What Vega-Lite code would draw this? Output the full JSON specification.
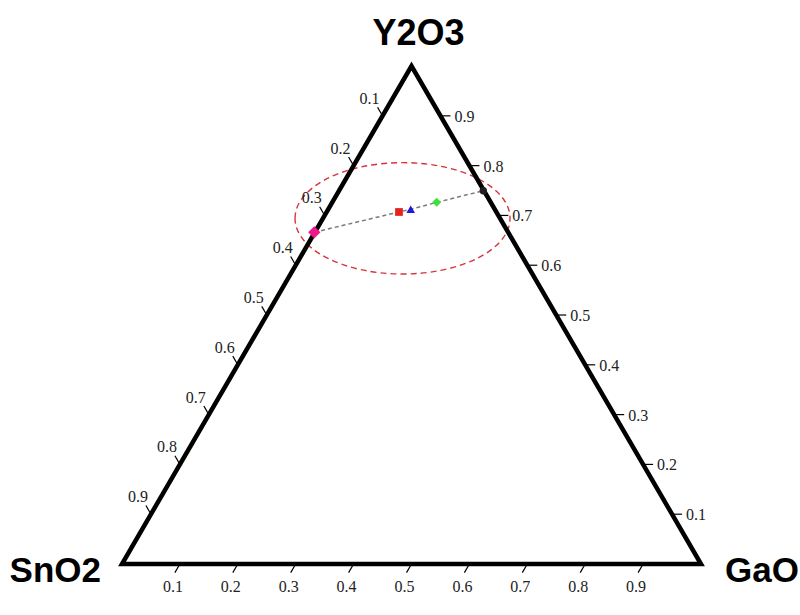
{
  "$schema": "https://vega.github.io/schema/vega-lite/v6.json",
  "width": 800,
  "height": 615,
  "autosize": "none",
  "padding": 0,
  "background": "white",
  "config": {"view": {"stroke": null}},
  "datasets": {
    "frame": [
      {"v": "SnO2", "order": 1, "x": 0, "y": 0},
      {"v": "GaO", "order": 2, "x": 1, "y": 0},
      {"v": "Y2O3", "order": 3, "x": 0.5, "y": 0.866},
      {"v": "SnO2", "order": 4, "x": 0, "y": 0},
      {"v": "GaO", "order": 5, "x": 1, "y": 0}
    ],
    "ticks": [
      {"axis": "GaO", "label": "0.1", "x": 0.1, "y": 0},
      {"axis": "GaO", "label": "0.2", "x": 0.2, "y": 0},
      {"axis": "GaO", "label": "0.3", "x": 0.3, "y": 0},
      {"axis": "GaO", "label": "0.4", "x": 0.4, "y": 0},
      {"axis": "GaO", "label": "0.5", "x": 0.5, "y": 0},
      {"axis": "GaO", "label": "0.6", "x": 0.6, "y": 0},
      {"axis": "GaO", "label": "0.7", "x": 0.7, "y": 0},
      {"axis": "GaO", "label": "0.8", "x": 0.8, "y": 0},
      {"axis": "GaO", "label": "0.9", "x": 0.9, "y": 0},
      {"axis": "Y2O3", "label": "0.1", "x": 0.95, "y": 0.0866},
      {"axis": "Y2O3", "label": "0.2", "x": 0.9, "y": 0.1732},
      {"axis": "Y2O3", "label": "0.3", "x": 0.85, "y": 0.2598},
      {"axis": "Y2O3", "label": "0.4", "x": 0.8, "y": 0.3464},
      {"axis": "Y2O3", "label": "0.5", "x": 0.75, "y": 0.433},
      {"axis": "Y2O3", "label": "0.6", "x": 0.7, "y": 0.5196},
      {"axis": "Y2O3", "label": "0.7", "x": 0.65, "y": 0.6062},
      {"axis": "Y2O3", "label": "0.8", "x": 0.6, "y": 0.6928},
      {"axis": "Y2O3", "label": "0.9", "x": 0.55, "y": 0.7794},
      {"axis": "SnO2", "label": "0.1", "x": 0.45, "y": 0.7794},
      {"axis": "SnO2", "label": "0.2", "x": 0.4, "y": 0.6928},
      {"axis": "SnO2", "label": "0.3", "x": 0.35, "y": 0.6062},
      {"axis": "SnO2", "label": "0.4", "x": 0.3, "y": 0.5196},
      {"axis": "SnO2", "label": "0.5", "x": 0.25, "y": 0.433},
      {"axis": "SnO2", "label": "0.6", "x": 0.2, "y": 0.3464},
      {"axis": "SnO2", "label": "0.7", "x": 0.15, "y": 0.2598},
      {"axis": "SnO2", "label": "0.8", "x": 0.1, "y": 0.1732},
      {"axis": "SnO2", "label": "0.9", "x": 0.05, "y": 0.0866}
    ],
    "samples": [
      {"sample": "A", "order": 1, "x": 0.3321, "y": 0.5769},
      {"sample": "B", "order": 2, "x": 0.4784, "y": 0.6122},
      {"sample": "C", "order": 3, "x": 0.4986, "y": 0.6169},
      {"sample": "D", "order": 4, "x": 0.5435, "y": 0.629},
      {"sample": "E", "order": 5, "x": 0.624, "y": 0.6492}
    ],
    "region": [
      {"name": "region", "x": 0.4845, "y": 0.6012}
    ]
  },
  "encoding": {
    "x": {"field": "x", "type": "quantitative", "scale": {"domain": [-0.21071, 1.17098], "nice": false, "zero": false}, "axis": null},
    "y": {"field": "y", "type": "quantitative", "scale": {"domain": [-0.0887, 0.98087], "nice": false, "zero": false}, "axis": null}
  },
  "layer": [
    {
      "data": {"name": "region"},
      "mark": {
        "type": "point",
        "shape": "M-1,0C-1,-0.286,-0.552,-0.518,0,-0.518C0.552,-0.518,1,-0.286,1,0C1,0.286,0.552,0.518,0,0.518C-0.552,0.518,-1,0.286,-1,0Z",
        "size": 46225,
        "filled": false,
        "stroke": "#d8343c",
        "strokeWidth": 1.4,
        "strokeDash": [6, 4],
        "opacity": 1
      }
    },
    {
      "data": {"name": "frame"},
      "mark": {"type": "line", "stroke": "black", "strokeWidth": 4.5, "strokeJoin": "miter", "strokeMiterLimit": 10},
      "encoding": {"order": {"field": "order"}}
    },
    {
      "data": {"name": "ticks"},
      "transform": [{"filter": "datum.axis === 'GaO'"}],
      "layer": [
        {"mark": {"type": "point", "shape": "M0,0L-0.5,0.866", "size": 400, "filled": false, "stroke": "black", "strokeWidth": 1.2, "opacity": 1}},
        {"mark": {"type": "text", "font": "Liberation Serif", "fontSize": 16, "color": "#222", "align": "center", "baseline": "middle", "dx": -7, "dy": 23}, "encoding": {"text": {"field": "label"}}}
      ]
    },
    {
      "data": {"name": "ticks"},
      "transform": [{"filter": "datum.axis === 'Y2O3'"}],
      "layer": [
        {"mark": {"type": "point", "shape": "M0,0L1,0", "size": 400, "filled": false, "stroke": "black", "strokeWidth": 1.2, "opacity": 1}},
        {"mark": {"type": "text", "font": "Liberation Serif", "fontSize": 16, "color": "#222", "align": "left", "baseline": "middle", "dx": 14, "dy": 1}, "encoding": {"text": {"field": "label"}}}
      ]
    },
    {
      "data": {"name": "ticks"},
      "transform": [{"filter": "datum.axis === 'SnO2'"}],
      "layer": [
        {"mark": {"type": "point", "shape": "M0,0L-0.5,-0.866", "size": 400, "filled": false, "stroke": "black", "strokeWidth": 1.2, "opacity": 1}},
        {"mark": {"type": "text", "font": "Liberation Serif", "fontSize": 16, "color": "#222", "align": "center", "baseline": "middle", "dx": -13, "dy": -17}, "encoding": {"text": {"field": "label"}}}
      ]
    },
    {
      "data": {"name": "samples"},
      "mark": {"type": "line", "stroke": "#7a7a7a", "strokeWidth": 1.5, "strokeDash": [4, 3]},
      "encoding": {"order": {"field": "order"}}
    },
    {
      "data": {"name": "samples"},
      "transform": [{"filter": "datum.sample === 'A'"}],
      "mark": {"type": "point", "shape": "diamond", "size": 150, "filled": true, "color": "#f0168c", "opacity": 1}
    },
    {
      "data": {"name": "samples"},
      "transform": [{"filter": "datum.sample === 'B'"}],
      "mark": {"type": "point", "shape": "square", "size": 60, "filled": true, "color": "#e3231e", "opacity": 1}
    },
    {
      "data": {"name": "samples"},
      "transform": [{"filter": "datum.sample === 'C'"}],
      "mark": {"type": "point", "shape": "triangle-up", "size": 75, "filled": true, "color": "#1c1cd8", "opacity": 1}
    },
    {
      "data": {"name": "samples"},
      "transform": [{"filter": "datum.sample === 'D'"}],
      "mark": {"type": "point", "shape": "diamond", "size": 80, "filled": true, "color": "#3ee03a", "opacity": 1}
    },
    {
      "data": {"name": "samples"},
      "transform": [{"filter": "datum.sample === 'E'"}],
      "mark": {"type": "point", "shape": "circle", "size": 55, "filled": true, "color": "#1e1e1e", "opacity": 1}
    },
    {
      "data": {"name": "frame"},
      "transform": [{"filter": "datum.order <= 3"}],
      "layer": [
        {"transform": [{"filter": "datum.v === 'Y2O3'"}], "mark": {"type": "text", "font": "Liberation Sans", "fontWeight": "bold", "fontSize": 36, "color": "black", "align": "center", "baseline": "alphabetic", "dx": 7, "dy": -21}, "encoding": {"text": {"field": "v"}}},
        {"transform": [{"filter": "datum.v === 'SnO2'"}], "mark": {"type": "text", "font": "Liberation Sans", "fontWeight": "bold", "fontSize": 35, "color": "black", "align": "right", "baseline": "alphabetic", "dx": -21, "dy": 18}, "encoding": {"text": {"field": "v"}}},
        {"transform": [{"filter": "datum.v === 'GaO'"}], "mark": {"type": "text", "font": "Liberation Sans", "fontWeight": "bold", "fontSize": 35, "color": "black", "align": "left", "baseline": "alphabetic", "dx": 24, "dy": 18}, "encoding": {"text": {"field": "v"}}}
      ]
    }
  ]
}
